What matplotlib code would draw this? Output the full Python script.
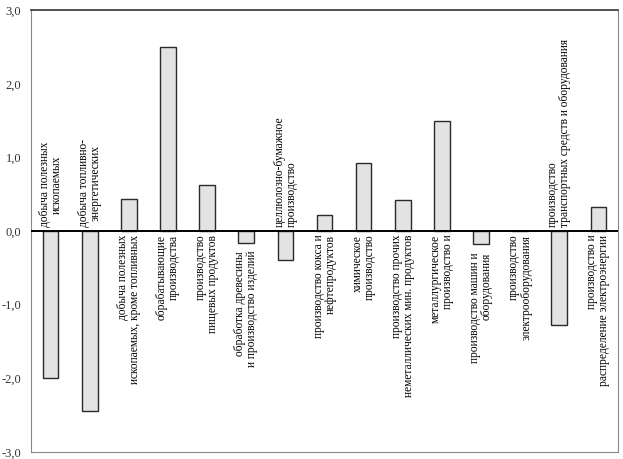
import matplotlib as mpl
mpl.use('Agg')
import matplotlib.pyplot as plt
import numpy as np

plt.rcParams['font.family'] = ['Liberation Serif', 'DejaVu Serif']

# categories (line breaks as in the original)
labels = [
    "добыча полезных\nископаемых",
    "добыча топливно-\nэнергетических",
    "добыча полезных\nископаемых, кроме топливных",
    "обрабатывающие\nпроизводства",
    "производство\nпищевых продуктов",
    "обработка древесины\nи производство изделий",
    "целлюлозно-бумажное\nпроизводство",
    "производство кокса и\nнефтепродуктов",
    "химическое\nпроизводство",
    "производство прочих\nнеметаллических мин. продуктов",
    "металлургическое\nпроизводство и",
    "производство машин и\nоборудования",
    "производство\nэлектрооборудования",
    "производство\nтранспортных средств и оборудования",
    "производство и\nраспределение электроэнергии",
]
values = [-2.0, -2.45, 0.43, 2.5, 0.62, -0.16, -0.40, 0.22, 0.92, 0.42, 1.50, -0.18, 0.0, -1.28, 0.32]
yticks = [-3, -2, -1, 0, 1, 2, 3]
ytick_labels = ["-3,0", "-2,0", "-1,0", "0,0", "1,0", "2,0", "3,0"]

fig = plt.figure(figsize=(6.23, 4.59), dpi=100)
ax = fig.add_axes([0.0498, 0.0153, 0.9422, 0.9627])

x = np.arange(len(values))
ax.bar(x, values, width=0.4, color='#e3e3e3', edgecolor='#2a2a2a', linewidth=1.0, zorder=2)
ax.axhline(0, color='black', linewidth=1.4, zorder=3)

ax.set_xlim(-0.5, len(values) - 0.5)
ax.set_ylim(-3, 3)
ax.set_yticks(yticks)
ax.set_yticklabels(ytick_labels, fontsize=9, color='#333333')
ax.set_xticks([])
ax.tick_params(axis='y', length=0, pad=7)
for side in ['left', 'right', 'bottom']:
    ax.spines[side].set_color('#888888')
ax.spines['top'].set_color('#333333')
ax.spines['top'].set_linewidth(1.2)

# category labels: above the zero line for negative bars, below for positive ones
for i, (lab, v) in enumerate(zip(labels, values)):
    if v < 0 and i not in (5, 11):
        align = 'center' if i < 2 else 'left'
        ax.text(i, 0.05, lab, rotation=90, ha='center', va='bottom',
                multialignment=align, fontsize=8.3, linespacing=1.0, zorder=4)
    else:
        y0 = v - 0.11 if v < 0 else -0.05
        ax.text(i, y0, lab, rotation=90, ha='center', va='top',
                multialignment='right', fontsize=8.3, linespacing=1.0, zorder=4)

fig.savefig('out.png', dpi=100)
